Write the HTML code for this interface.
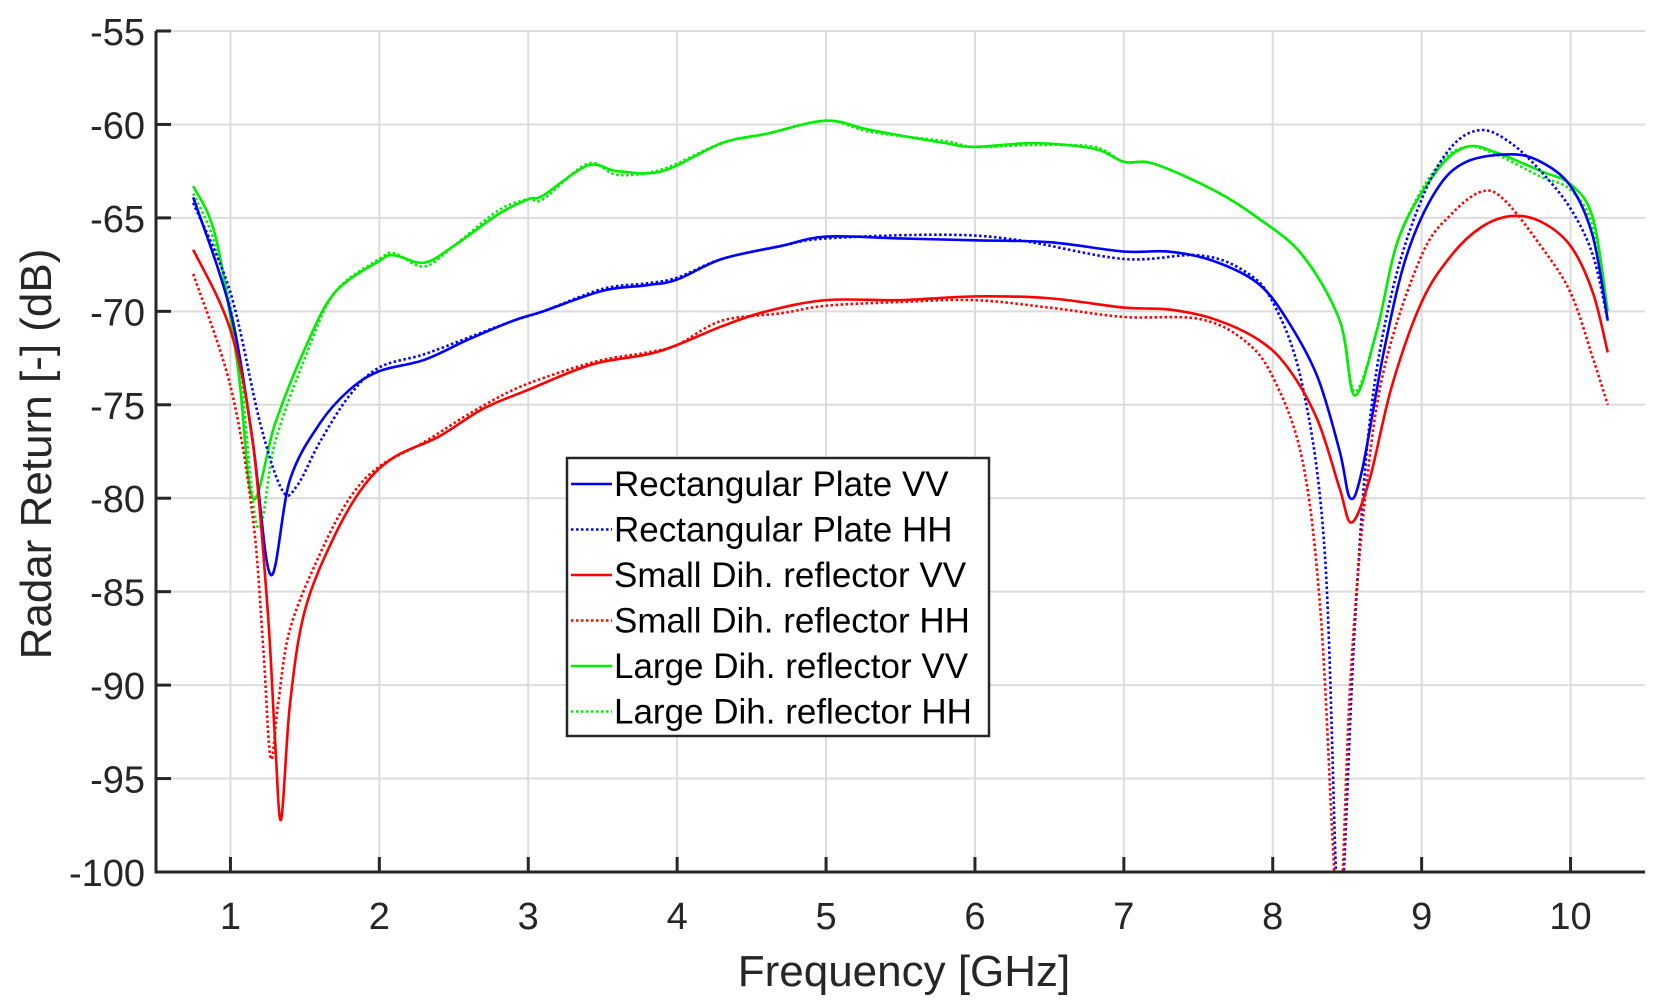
<!DOCTYPE html>
<html><head><meta charset="utf-8"><style>
html,body{margin:0;padding:0;background:#fff;}
svg{display:block;font-family:"Liberation Sans",Arial,sans-serif;}
</style></head><body>
<svg id="chart" width="1668" height="1007" viewBox="0 0 1668 1007" xmlns="http://www.w3.org/2000/svg">
<defs><clipPath id="plotclip"><rect x="156" y="31" width="1489" height="841"/></clipPath></defs>
<g id="grid"></g>
<g id="series" clip-path="url(#plotclip)"></g>
<g id="axes"></g>
<text x="904" y="986" font-size="44" text-anchor="middle" fill="#262626">Frequency [GHz]</text>
<text transform="translate(51,454) rotate(-90)" font-size="44" text-anchor="middle" fill="#262626">Radar Return [-] (dB)</text>
<g id="legend"></g>
</svg>
<script>
const xTicks=[1,2,3,4,5,6,7,8,9,10];
const yTicks=[-55,-60,-65,-70,-75,-80,-85,-90,-95,-100];
const seriesNames=["Rectangular Plate VV","Rectangular Plate HH","Small Dih. reflector VV","Small Dih. reflector HH","Large Dih. reflector VV","Large Dih. reflector HH"];
const seriesColors=["#0000ff","#0000ff","#ff0000","#ff0000","#00ee00","#00ee00"];
const seriesDotted=[false,true,false,true,false,true];
const rectVV=[[0.75,-63.9],[1.0,-70],[1.15,-77],[1.27,-84.1],[1.4,-79],[1.6,-76],[1.8,-74.2],[2.0,-73.2],[2.3,-72.6],[2.6,-71.5],[2.9,-70.5],[3.1,-70],[3.5,-68.9],[3.8,-68.6],[4.0,-68.3],[4.3,-67.2],[4.7,-66.5],[5.0,-66],[5.5,-66.1],[6.0,-66.2],[6.5,-66.3],[7.0,-66.8],[7.3,-66.8],[7.6,-67.3],[7.9,-68.5],[8.1,-70.5],[8.3,-73.5],[8.45,-77.5],[8.52,-80],[8.6,-78.5],[8.75,-72],[8.9,-67],[9.1,-63.5],[9.3,-62],[9.6,-61.6],[9.8,-62],[10.0,-63.3],[10.15,-66],[10.25,-70.5]];
const rectHH=[[0.75,-64.2],[1.0,-69],[1.2,-76],[1.35,-79.6],[1.45,-79.3],[1.6,-77],[1.8,-74.5],[2.0,-73],[2.3,-72.3],[2.6,-71.4],[2.9,-70.5],[3.1,-70],[3.5,-68.8],[3.8,-68.5],[4.0,-68.2],[4.3,-67.2],[4.7,-66.5],[5.0,-66.1],[5.8,-65.9],[6.3,-66.2],[7.0,-67.2],[7.5,-67],[7.8,-67.8],[8.0,-69.5],[8.2,-74],[8.35,-83],[8.43,-101],[8.47,-101],[8.55,-87],[8.65,-76],[8.8,-69],[9.0,-64],[9.2,-61.2],[9.4,-60.3],[9.6,-61],[9.8,-62.5],[10.0,-64.5],[10.15,-67],[10.25,-70.5]];
const smallVV=[[0.75,-66.7],[1.0,-71],[1.15,-77],[1.25,-86],[1.3,-93],[1.34,-97.2],[1.4,-91],[1.5,-86],[1.7,-82],[1.9,-79.3],[2.1,-77.8],[2.4,-76.7],[2.7,-75.2],[3.0,-74.2],[3.3,-73.2],[3.5,-72.7],[3.8,-72.3],[4.0,-71.8],[4.3,-70.8],[4.6,-70],[5.0,-69.4],[5.5,-69.4],[6.0,-69.2],[6.5,-69.3],[7.0,-69.8],[7.3,-69.9],[7.6,-70.4],[7.9,-71.5],[8.1,-73],[8.3,-75.8],[8.45,-79.5],[8.53,-81.3],[8.65,-79],[8.8,-74],[9.0,-69.5],[9.2,-67],[9.4,-65.5],[9.6,-64.9],[9.8,-65.2],[10.0,-66.5],[10.15,-69],[10.25,-72.2]];
const smallHH=[[0.75,-68],[1.0,-74],[1.15,-81],[1.22,-88],[1.27,-93.9],[1.32,-91],[1.4,-87],[1.6,-83],[1.8,-80],[2.0,-78.3],[2.3,-77],[2.6,-75.5],[2.9,-74.2],[3.2,-73.3],[3.5,-72.6],[3.8,-72.2],[4.0,-71.8],[4.3,-70.5],[4.7,-70.1],[5.0,-69.7],[5.5,-69.5],[6.0,-69.4],[6.5,-69.8],[7.0,-70.3],[7.5,-70.4],[7.8,-71.5],[8.0,-73.5],[8.2,-78],[8.32,-86],[8.4,-98],[8.43,-102],[8.46,-102],[8.52,-90],[8.62,-80],[8.75,-73],[9.0,-67],[9.2,-64.8],[9.4,-63.6],[9.55,-64],[9.8,-66.5],[10.0,-69],[10.15,-72.5],[10.25,-75]];
const largeVV=[[0.75,-63.3],[0.9,-66],[1.05,-73],[1.15,-80],[1.3,-76],[1.5,-72],[1.7,-69],[2.0,-67.3],[2.1,-67],[2.3,-67.4],[2.5,-66.5],[2.8,-64.8],[3.0,-64],[3.1,-63.8],[3.4,-62.2],[3.6,-62.5],[3.9,-62.5],[4.3,-61],[4.6,-60.5],[5.0,-59.8],[5.3,-60.3],[5.8,-61],[6.0,-61.2],[6.4,-61],[6.8,-61.3],[7.0,-62],[7.2,-62.1],[7.6,-63.5],[7.9,-65],[8.2,-67],[8.45,-70.5],[8.55,-74.5],[8.7,-71],[8.85,-66],[9.1,-62.5],[9.3,-61.2],[9.5,-61.5],[9.8,-62.5],[10.0,-63.2],[10.15,-65],[10.25,-70]];
const largeHH=[[0.75,-63.7],[0.9,-66.5],[1.05,-72],[1.18,-81.5],[1.3,-77],[1.5,-72.5],[1.7,-69],[2.0,-67.2],[2.1,-66.9],[2.3,-67.6],[2.5,-66.5],[2.8,-64.6],[3.0,-64],[3.1,-64],[3.4,-62.1],[3.6,-62.7],[3.9,-62.4],[4.3,-61],[4.6,-60.5],[5.0,-59.8],[5.3,-60.4],[5.8,-60.9],[6.0,-61.2],[6.4,-61.1],[6.8,-61.2],[7.0,-62],[7.2,-62.1],[7.6,-63.5],[7.9,-65],[8.2,-67],[8.45,-70.5],[8.55,-74.3],[8.7,-71],[8.85,-66],[9.1,-62.3],[9.3,-61.2],[9.5,-61.6],[9.8,-62.8],[10.0,-63.5],[10.15,-65.5],[10.25,-70.5]];
const allSeries=[rectVV,rectHH,smallVV,smallHH,largeVV,largeHH];

const X0=156,X1=1645,Y0=31,Y1=872,xMin=0.5,xMax=10.5,yMin=-100,yMax=-55;
function sx(v){return X0+(v-xMin)/(xMax-xMin)*(X1-X0);}
function sy(v){return Y1-(v-yMin)/(yMax-yMin)*(Y1-Y0);}
const NS="http://www.w3.org/2000/svg";
function mk(tag,attrs,parent){const e=document.createElementNS(NS,tag);for(const k in attrs)e.setAttribute(k,attrs[k]);parent.appendChild(e);return e;}
const grid=document.getElementById('grid'),axes=document.getElementById('axes'),ser=document.getElementById('series'),leg=document.getElementById('legend');
xTicks.forEach(t=>{
  const g=mk('line',{x1:sx(t),x2:sx(t),y1:Y0,y2:Y1,stroke:'#dcdcdc','stroke-width':2},grid);
  
  
  const tk=mk('line',{x1:sx(t),x2:sx(t),y1:Y1,y2:Y1-15,stroke:'#262626','stroke-width':3},axes);
  
  
  const lb=mk('text',{x:sx(t),y:929,'font-size':38,'text-anchor':'middle',fill:'#262626'},axes);
  lb.textContent=t;
  
  
});
yTicks.forEach(t=>{
  const g=mk('line',{x1:X0,x2:X1,y1:sy(t),y2:sy(t),stroke:'#dcdcdc','stroke-width':2},grid);
  
  
  const tk=mk('line',{x1:X0,x2:X0+15,y1:sy(t),y2:sy(t),stroke:'#262626','stroke-width':3},axes);
  
  
  const lb=mk('text',{x:145,y:sy(t)+14,'font-size':38,'text-anchor':'end',fill:'#262626'},axes);
  lb.textContent=t;
  
  
});
const ax=mk('path',{d:`M${X0},${Y0} L${X0},${Y1} L${X1},${Y1}`,fill:'none',stroke:'#262626','stroke-width':3},axes);


function pathD(pts){
  const p=pts.map(q=>[sx(q[0]),sy(q[1])]);
  let d=`M${p[0][0]},${p[0][1]}`;
  for(let i=0;i<p.length-1;i++){
    const a=p[Math.max(i-1,0)],b=p[i],c=p[i+1],e=p[Math.min(i+2,p.length-1)];
    const c1=[b[0]+(c[0]-a[0])/6,b[1]+(c[1]-a[1])/6],c2=[c[0]-(e[0]-b[0])/6,c[1]-(e[1]-b[1])/6];
    d+=` C${c1[0]},${c1[1]} ${c2[0]},${c2[1]} ${c[0]},${c[1]}`;
  }
  return d;
}
const order=[4,5,0,1,2,3];
order.forEach(i=>{
  const a={d:pathD(allSeries[i]),fill:'none',stroke:seriesColors[i],'stroke-width':2.6,'stroke-linejoin':'round'};
  if(seriesDotted[i])a['stroke-dasharray']='2.5,2.5';
  const p=mk('path',a,ser);
  
  
});
const box=mk('rect',{x:567,y:458,width:422,height:278,fill:'#fff',stroke:'#262626','stroke-width':2.5},leg);


seriesNames.forEach((n,i)=>{
  const y=484+i*45.5;
  const a={x1:571,x2:612,y1:y,y2:y,stroke:seriesColors[i],'stroke-width':2.6};
  if(seriesDotted[i])a['stroke-dasharray']='2.5,2.5';
  const l=mk('line',a,leg);
  
  
  const t=mk('text',{x:614,y:y+12,'font-size':35,fill:'#000'},leg);
  t.textContent=n;
  
  
});
</script>
</body></html>
